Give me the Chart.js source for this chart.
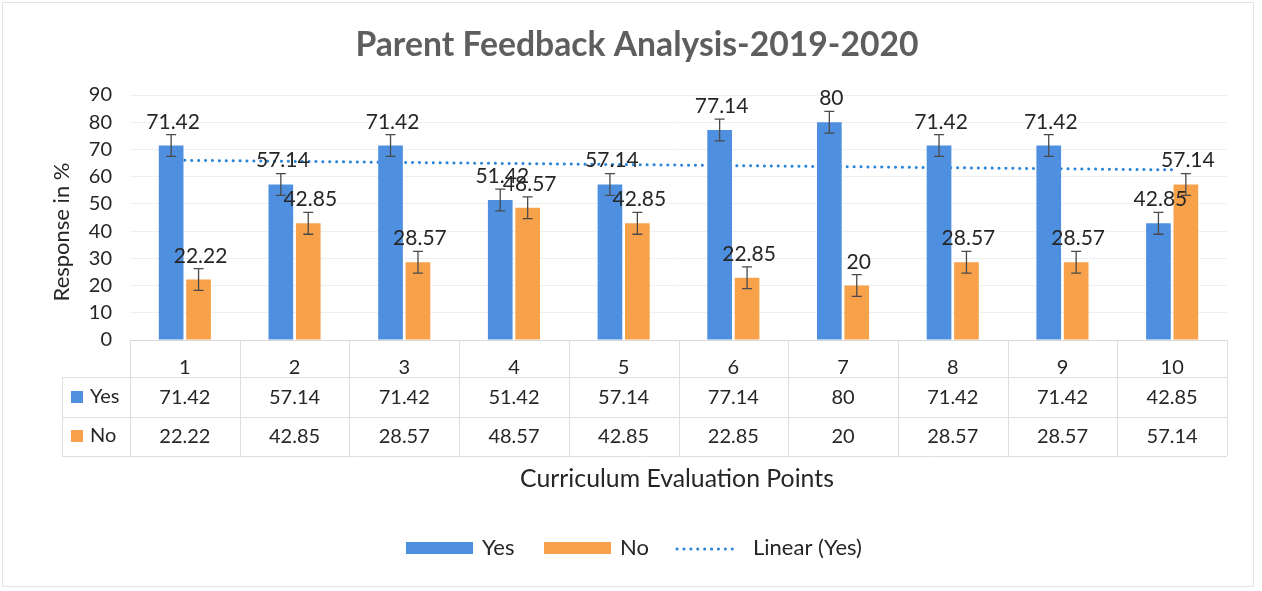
<!DOCTYPE html>
<html>
<head>
<meta charset="utf-8">
<script src="https://cdn.jsdelivr.net/npm/chart.js@4.4.1/dist/chart.umd.min.js"></script>
<style>
  html, body { margin: 0; padding: 0; background: #fff; }
  #wrap { width: 1262px; height: 591px; position: relative; }
</style>
</head>
<body>
<div id="wrap"><canvas id="myChart"></canvas></div>
<script>
'use strict';

// values
var categories = ['1', '2', '3', '4', '5', '6', '7', '8', '9', '10'];
var yesValues = [71.42, 57.14, 71.42, 51.42, 57.14, 77.14, 80, 71.42, 71.42, 42.85];
var noValues = [22.22, 42.85, 28.57, 48.57, 42.85, 22.85, 20, 28.57, 28.57, 57.14];
var yesErrors = [4, 4, 4, 4, 4, 4, 4, 4, 4, 4];
var noErrors = [4, 4, 4, 4, 4, 4, 4, 4, 4, 4];
// linear trend of Yes, ends
var trendLine = [{x: '1', y: 66}, {x: '10', y: 62.5}];
var yTicks = [0, 10, 20, 30, 40, 50, 60, 70, 80, 90];

var BLUE = '#4f8fe0';
var ORANGE = '#f7a14a';
var TREND = '#2a84d8';
var FONT = 'Lato, "Open Sans", sans-serif';
var TEXT = '#262626';

//エラーバー、ラベル、表、凡例などを描く
var extrasPlugin = {
  id: 'extras',
  beforeDraw: function(chart) {
    var ctx = chart.ctx;
    ctx.save();
    ctx.fillStyle = '#fff';
    ctx.fillRect(0, 0, chart.width, chart.height);
    ctx.strokeStyle = '#e2e2e2';
    ctx.lineWidth = 1;
    ctx.strokeRect(2.5, 2.5, 1251, 584);
    ctx.restore();
  },
  afterDatasetsDraw: function(chart) {
    var ctx = chart.ctx;
    var y = chart.scales.y;
    ctx.save();
    [[0, yesValues, yesErrors], [1, noValues, noErrors]].forEach(function(s) {
      var meta = chart.getDatasetMeta(s[0]);
      meta.data.forEach(function(bar, i) {
        var v = s[1][i], e = s[2][i];
        var yt = y.getPixelForValue(v + e), yb = y.getPixelForValue(v - e);
        ctx.strokeStyle = '#4a4a4a';
        ctx.lineWidth = 1.3;
        ctx.beginPath();
        ctx.moveTo(bar.x, yt); ctx.lineTo(bar.x, yb);
        ctx.moveTo(bar.x - 5, yt); ctx.lineTo(bar.x + 5, yt);
        ctx.moveTo(bar.x - 5, yb); ctx.lineTo(bar.x + 5, yb);
        ctx.stroke();
        ctx.fillStyle = TEXT;
        ctx.font = '21px ' + FONT;
        ctx.textAlign = 'center';
        ctx.textBaseline = 'alphabetic';
        ctx.fillText(String(v), bar.x + 2, bar.y - 17);
      });
    });
    ctx.restore();
  },
  afterDraw: function(chart) {
    var ctx = chart.ctx;
    var x = chart.scales.x;
    var area = chart.chartArea;
    var colW = (area.right - area.left) / categories.length;
    ctx.save();

    // title
    ctx.fillStyle = '#5e5e5e';
    ctx.font = 'bold 33.7px ' + FONT;
    ctx.textAlign = 'center';
    ctx.textBaseline = 'alphabetic';
    ctx.fillText('Parent Feedback Analysis-2019-2020', 637, 56);

    // y title
    ctx.save();
    ctx.translate(62, 232);
    ctx.rotate(-Math.PI / 2);
    ctx.fillStyle = TEXT;
    ctx.font = '22px ' + FONT;
    ctx.textAlign = 'center';
    ctx.textBaseline = 'middle';
    ctx.fillText('Response in %', 0, 0);
    ctx.restore();

    // data table
    var rowTop = 377, rowMid = 417, rowBot = 456, tableLeft = 62;
    ctx.strokeStyle = '#dedede';
    ctx.lineWidth = 1;
    ctx.beginPath();
    [rowTop, rowMid, rowBot].forEach(function(yy) {
      ctx.moveTo(tableLeft, yy + 0.5); ctx.lineTo(area.right, yy + 0.5);
    });
    ctx.moveTo(tableLeft + 0.5, rowTop); ctx.lineTo(tableLeft + 0.5, rowBot);
    for (var c = 0; c <= categories.length; c++) {
      var lx = Math.round(area.left + c * colW) + 0.5;
      ctx.moveTo(lx, area.bottom); ctx.lineTo(lx, rowBot);
    }
    ctx.stroke();

    ctx.font = '20px ' + FONT;
    ctx.textBaseline = 'middle';
    ctx.textAlign = 'center';
    ctx.fillStyle = TEXT;
    categories.forEach(function(cat, i) {
      var cx = x.getPixelForValue(i);
      ctx.fillText(String(yesValues[i]), cx, 398);
      ctx.fillText(String(noValues[i]), cx, 437);
    });
    ctx.textAlign = 'left';
    ctx.fillStyle = BLUE;
    ctx.fillRect(71, 391, 12, 12);
    ctx.fillStyle = ORANGE;
    ctx.fillRect(71, 430, 12, 12);
    ctx.fillStyle = TEXT;
    ctx.fillText('Yes', 90, 397);
    ctx.fillText('No', 90, 436);

    // x title
    ctx.textAlign = 'center';
    ctx.font = '24.8px ' + FONT;
    ctx.fillText('Curriculum Evaluation Points', 677, 479);

    // legend
    ctx.fillStyle = BLUE;
    ctx.fillRect(406, 542, 67, 12);
    ctx.fillStyle = ORANGE;
    ctx.fillRect(544, 542, 67, 12);
    ctx.strokeStyle = TREND;
    ctx.lineWidth = 3;
    ctx.lineCap = 'round';
    ctx.setLineDash([0.1, 6.8]);
    ctx.beginPath();
    ctx.moveTo(677, 549); ctx.lineTo(738, 549);
    ctx.stroke();
    ctx.setLineDash([]);
    ctx.fillStyle = TEXT;
    ctx.textAlign = 'left';
    ctx.font = '22px ' + FONT;
    ctx.fillText('Yes', 482, 548);
    ctx.fillText('No', 620, 548);
    ctx.fillText('Linear (Yes)', 753, 548);
    ctx.restore();
  }
};

var ctx = document.getElementById('myChart').getContext('2d');
var myChart = new Chart(ctx, {
  type: 'bar',
  data: {
    labels: categories,
    datasets: [{
      label: 'Yes',
      data: yesValues,
      backgroundColor: BLUE,
      order: 1
    }, {
      label: 'No',
      data: noValues,
      backgroundColor: ORANGE,
      order: 2
    }, {
      type: 'line',
      label: 'Linear (Yes)',
      data: trendLine,
      borderColor: TREND,
      borderWidth: 3,
      borderDash: [0.1, 6.8],
      borderCapStyle: 'round',
      pointRadius: 0,
      fill: false,
      order: 3
    }]
  },
  options: {
    responsive: true,
    maintainAspectRatio: false,
    animation: false,
    categoryPercentage: 0.5,
    barPercentage: 0.9,
    layout: {
      padding: {top: 95, left: 10, right: 35, bottom: 0}
    },
    plugins: {
      legend: {display: false},
      title: {display: false},
      tooltip: {enabled: false}
    },
    scales: {
      x: {
        grid: {display: false},
        border: {display: true, color: '#d9d9d9'},
        ticks: {
          color: TEXT,
          font: {family: FONT, size: 20},
          padding: 8
        },
        afterFit: function(s) { s.height = 251; }
      },
      y: {
        min: 0,
        max: 90,
        afterBuildTicks: function(s) {
          s.ticks = yTicks.map(function(v) { return {value: v}; });
        },
        grid: {color: '#efefef', drawTicks: false},
        border: {display: false},
        ticks: {
          color: TEXT,
          font: {family: FONT, size: 20},
          padding: 18
        },
        afterFit: function(s) { s.width = 120; }
      }
    }
  },
  plugins: [extrasPlugin]
});
</script>
</body>
</html>
